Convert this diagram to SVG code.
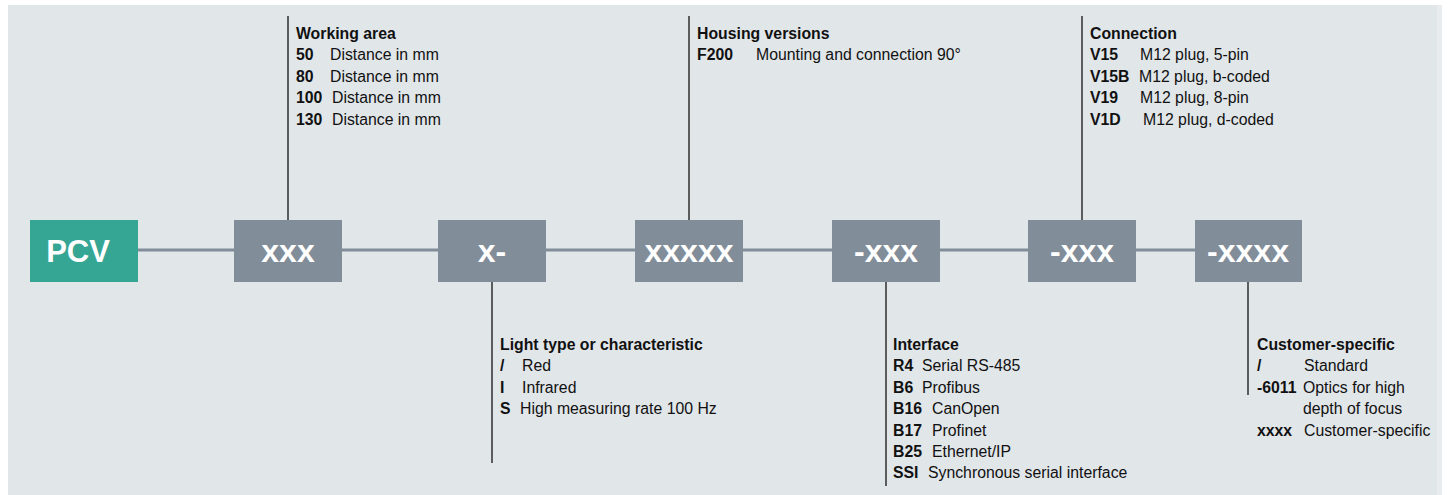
<svg xmlns="http://www.w3.org/2000/svg" width="1450" height="495" viewBox="0 0 1450 495">
<style>
.box{fill:#828D9A}
.green{fill:#35A594}
.bt{font-family:"Liberation Sans",Arial,sans-serif;font-weight:bold;font-size:32px;fill:#fff;text-anchor:middle}
.t{font-family:"Liberation Sans",Arial,sans-serif;font-size:15.8px;fill:#111}
.b{font-weight:bold}
.conn{stroke:#828D9A;stroke-width:3;fill:none}
.lead{stroke:#222;stroke-width:1.4;fill:none}
</style>
<rect x="0" y="0" width="1450" height="495" fill="#ffffff"/>
<rect x="8" y="5" width="1429" height="490" fill="#E1E6E9"/>
<rect x="1437" y="5" width="5" height="490" fill="#E8ECEE"/>
<g id="connectors">
<line class="conn" x1="138" y1="250" x2="1195" y2="250"/>
<line class="lead" x1="288" y1="16" x2="288" y2="220"/>
<line class="lead" x1="689" y1="16" x2="689" y2="220"/>
<line class="lead" x1="1082" y1="16" x2="1082" y2="220"/>
<line class="lead" x1="492" y1="282" x2="492" y2="463"/>
<line class="lead" x1="886" y1="282" x2="886" y2="486"/>
<line class="lead" x1="1248" y1="282" x2="1248" y2="395"/>
</g>
<g id="pcv"><rect class="green" x="30" y="220" width="108" height="62"/><text class="bt" x="78" y="262" style="font-size:31px">PCV</text></g>
<g id="n1"><rect class="box" x="234" y="220" width="108" height="62"/><text class="bt" x="288" y="262">xxx</text></g>
<g id="n2"><rect class="box" x="438" y="220" width="108" height="62"/><text class="bt" x="492" y="262">x-</text></g>
<g id="n3"><rect class="box" x="635" y="220" width="108" height="62"/><text class="bt" x="689" y="262">xxxxx</text></g>
<g id="n4"><rect class="box" x="832" y="220" width="108" height="62"/><text class="bt" x="886" y="262">-xxx</text></g>
<g id="n5"><rect class="box" x="1028" y="220" width="108" height="62"/><text class="bt" x="1082" y="262">-xxx</text></g>
<g id="n6"><rect class="box" x="1195" y="220" width="107" height="62"/><text class="bt" x="1248" y="262">-xxxx</text></g>
<g id="working-area" class="t">
<text class="t b" x="296" y="39">Working area</text>
<text class="t b" x="296" y="60">50</text><text class="t" x="330" y="60">Distance in mm</text>
<text class="t b" x="296" y="82">80</text><text class="t" x="330" y="82">Distance in mm</text>
<text class="t b" x="296" y="103">100</text><text class="t" x="332" y="103">Distance in mm</text>
<text class="t b" x="296" y="125">130</text><text class="t" x="332" y="125">Distance in mm</text>
</g>
<g id="housing">
<text class="t b" x="697" y="39">Housing versions</text>
<text class="t b" x="697" y="60">F200</text><text class="t" x="756" y="60">Mounting and connection 90°</text>
</g>
<g id="connection">
<text class="t b" x="1090" y="39">Connection</text>
<text class="t b" x="1090" y="60">V15</text><text class="t" x="1140" y="60">M12 plug, 5-pin</text>
<text class="t b" x="1090" y="82">V15B</text><text class="t" x="1139" y="82">M12 plug, b-coded</text>
<text class="t b" x="1090" y="103">V19</text><text class="t" x="1140" y="103">M12 plug, 8-pin</text>
<text class="t b" x="1090" y="125">V1D</text><text class="t" x="1143" y="125">M12 plug, d-coded</text>
</g>
<g id="light-type">
<text class="t b" x="500" y="350">Light type or characteristic</text>
<text class="t b" x="500" y="371">/</text><text class="t" x="522" y="371">Red</text>
<text class="t b" x="500" y="393">I</text><text class="t" x="522" y="393">Infrared</text>
<text class="t b" x="500" y="414">S</text><text class="t" x="520" y="414">High measuring rate 100 Hz</text>
</g>
<g id="interface">
<text class="t b" x="893" y="350">Interface</text>
<text class="t b" x="893" y="371">R4</text><text class="t" x="922" y="371">Serial RS-485</text>
<text class="t b" x="893" y="393">B6</text><text class="t" x="922" y="393">Profibus</text>
<text class="t b" x="893" y="414">B16</text><text class="t" x="932" y="414">CanOpen</text>
<text class="t b" x="893" y="436">B17</text><text class="t" x="932" y="436">Profinet</text>
<text class="t b" x="893" y="457">B25</text><text class="t" x="932" y="457">Ethernet/IP</text>
<text class="t b" x="893" y="478">SSI</text><text class="t" x="928" y="478">Synchronous serial interface</text>
</g>
<g id="customer">
<text class="t b" x="1257" y="350">Customer-specific</text>
<text class="t b" x="1257" y="371">/</text><text class="t" x="1304" y="371">Standard</text>
<text class="t b" x="1257" y="393">-6011</text><text class="t" x="1303" y="393">Optics for high</text>
<text class="t" x="1303" y="414">depth of focus</text>
<text class="t b" x="1257" y="436">xxxx</text><text class="t" x="1304" y="436">Customer-specific</text>
</g>
</svg>
